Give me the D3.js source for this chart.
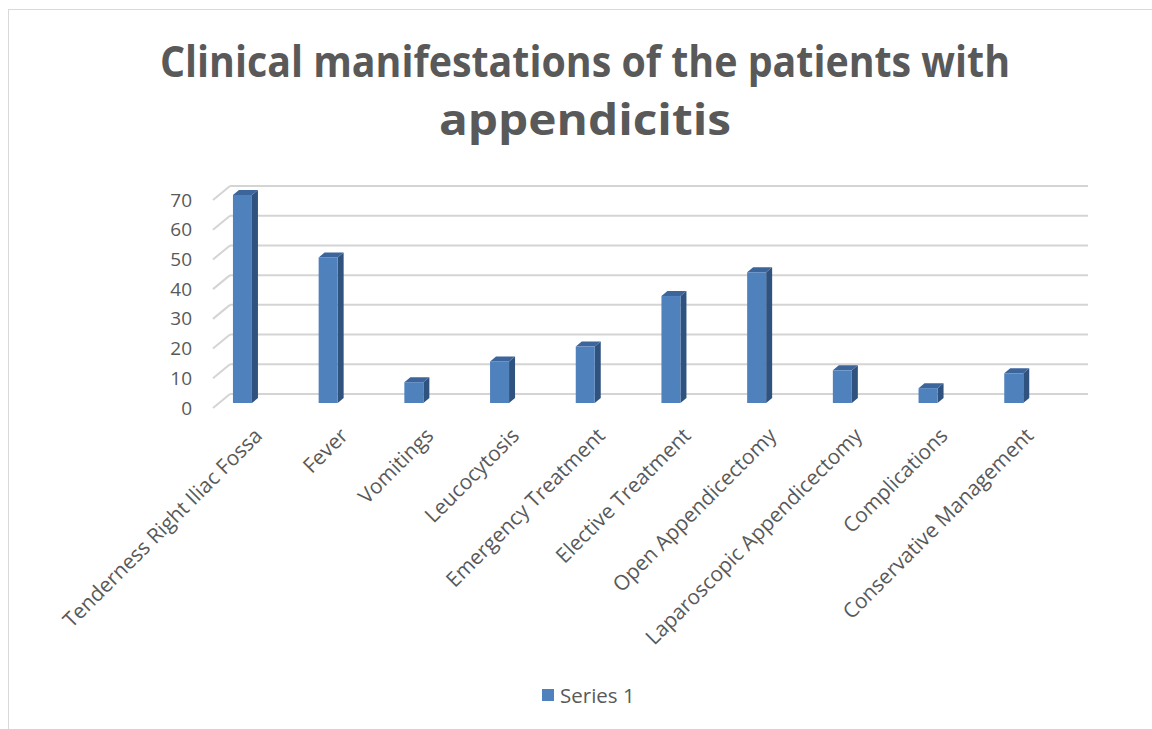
<!DOCTYPE html>
<html>
<head>
<meta charset="utf-8">
<script src="https://cdn.jsdelivr.net/npm/d3@7"></script>
<style>
html,body{margin:0;padding:0;background:#fff;}
svg{display:block;}
</style>
</head>
<body>
<svg id="chart" width="1152" height="729"></svg>
<script>
const categories = ["Tenderness Right Iliac Fossa","Fever","Vomitings","Leucocytosis","Emergency Treatment","Elective Treatment","Open Appendicectomy","Laparoscopic Appendicectomy","Complications","Conservative Management"];
const series1 = [70,49,7,14,19,36,44,11,5,10];
const yTicks = [0,10,20,30,40,50,60,70];
const titleLines = ["Clinical manifestations of the patients with","appendicitis"];
const seriesName = "Series 1";

const svg = d3.select("#chart");
const textColor = "#595959";
const font = "'Open Sans', 'Liberation Sans', sans-serif";

// outer frame
svg.append("rect").attr("x",8.5).attr("y",9.5).attr("width",1200).attr("height",800)
  .attr("fill","none").attr("stroke","#d9d9d9").attr("stroke-width",1);

// title
const titleWidths = [850, 292];
titleLines.forEach((t,i)=>{
  svg.append("text").attr("x",585).attr("y",77 + i*58)
    .attr("text-anchor","middle").attr("font-family",font).attr("font-weight","bold")
    .attr("font-size",43).attr("fill",textColor)
    .attr("textLength",titleWidths[i]).attr("lengthAdjust","spacingAndGlyphs")
    .text(t);
});

const x = d3.scaleBand().domain(categories).range([199.6,1056.6]);
const y = d3.scaleLinear().domain([0,70]).range([403,195]);

const wallDY = -9, wallX0 = 230, wallX1 = 1088, frontX = 213, frontDY = 5;

// gridlines (back wall + left diagonal)
const grid = svg.append("g");
yTicks.forEach(v=>{
  const yy = y(v) + wallDY;
  grid.append("line").attr("x1",wallX0).attr("x2",wallX1).attr("y1",yy).attr("y2",yy)
    .attr("stroke","#d4d4d4").attr("stroke-width",2);
  grid.append("line").attr("x1",frontX).attr("y1",y(v)+frontDY).attr("x2",wallX0).attr("y2",yy)
    .attr("stroke","#d4d4d4").attr("stroke-width",2);
});

// y axis labels
const yAxis = d3.axisLeft(d3.scaleLinear().domain([0,70]).range([y(0)+frontDY, y(70)+frontDY]))
  .tickValues(yTicks).tickSize(0).tickPadding(0);
const ga = svg.append("g").attr("transform","translate(192,0)").call(yAxis);
ga.select(".domain").remove();
ga.selectAll("text").attr("font-family",font).attr("font-size",19).attr("fill",textColor);

// bars
const bw = 19, ddx = 6, ddy = -5;
const bars = svg.append("g");
categories.forEach((c,i)=>{
  const cx = x(c) + x.bandwidth()/2;
  const v = series1[i];
  const top = y(v), bot = y(0);
  const l = cx - bw/2, r = cx + bw/2;
  bars.append("polygon")
    .attr("points",[[r,top],[r+ddx,top+ddy],[r+ddx,bot+ddy],[r,bot]].map(p=>p.join(",")).join(" "))
    .attr("fill","#30527f");
  bars.append("polygon")
    .attr("points",[[l,top],[l+ddx,top+ddy],[r+ddx,top+ddy],[r,top]].map(p=>p.join(",")).join(" "))
    .attr("fill","#3c659b");
  bars.append("rect").attr("x",l).attr("y",top).attr("width",bw).attr("height",bot-top)
    .attr("fill","#4f81bd");
});

// category labels
const lab = svg.append("g");
categories.forEach(c=>{
  const cx = x(c) + x.bandwidth()/2;
  lab.append("text").attr("transform",`translate(${cx+21},437) rotate(-45)`)
    .attr("text-anchor","end").attr("font-family",font).attr("font-size",20.8)
    .attr("fill",textColor).text(c);
});

// legend
svg.append("rect").attr("x",542).attr("y",689).attr("width",12).attr("height",12).attr("fill","#4f81bd");
svg.append("text").attr("x",560).attr("y",703).attr("font-family",font).attr("font-size",20.5)
  .attr("fill",textColor).text(seriesName);
</script>
</body>
</html>
